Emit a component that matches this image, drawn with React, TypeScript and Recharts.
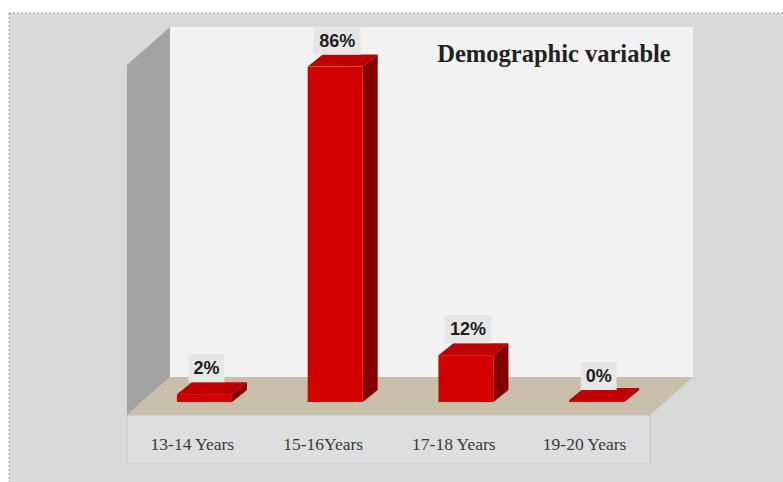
import React from "react";
import { BarChart, Bar, XAxis, YAxis, LabelList } from "recharts";

// chart values
const ageGroups = ["13-14 Years", "15-16Years", "17-18 Years", "19-20 Years"];
const sharePercent = [2, 86, 12, 0];
const chartTitle = "Demographic variable";

const data = ageGroups.map((group, i) => ({ group, share: sharePercent[i] }));

// layout of the 3d box (Excel style)
const W = 783;
const H = 482;
const FRONT_LEFT = 127;
const FRONT_RIGHT = 650;
const FRONT_Y = 415;
const DEPTH_X = 43;
const DEPTH_Y = 38;
const WALL_TOP = 27;
const BAR_SHIFT_X = 12;
const BAR_BASE = 402;
const PLOT_TOP = 12;
const X_AXIS_H = 30;

// bar box depth
const BOX_DX = 15;
const BOX_DY = 12;

const Box3D = (props: any) => {
  const { x, y, width } = props;
  let h = props.height;
  let top = y;
  if (!h || h < 2) {
    h = 2;
    top = BAR_BASE - 2;
  }
  const r = x + width;
  return (
    <g>
      <polygon
        points={`${x},${top} ${x + BOX_DX},${top - BOX_DY} ${r + BOX_DX},${top - BOX_DY} ${r},${top}`}
        fill="#c00000"
      />
      <polygon
        points={`${r},${top} ${r + BOX_DX},${top - BOX_DY} ${r + BOX_DX},${top + h - BOX_DY} ${r},${top + h}`}
        fill="#840000"
      />
      <rect x={x} y={top} width={width} height={h} fill="#d20000" />
    </g>
  );
};

const ValueLabel = (props: any) => {
  const { x, y, width, value } = props;
  const text = `${value}%`;
  const cx = x + width / 2 + 2;
  const cy = y - 26;
  const bw = text.length * 11 + 14;
  return (
    <g>
      <rect x={cx - bw / 2} y={cy - 14} width={bw} height={28} fill="#e6e6e6" />
      <text
        x={cx}
        y={cy + 6}
        textAnchor="middle"
        fontFamily="'Liberation Sans', Arial, sans-serif"
        fontWeight="bold"
        fontSize={18}
        fill="#1e1e1e"
      >
        {text}
      </text>
    </g>
  );
};

const AgeTick = (props: any) => {
  const { x, payload } = props;
  return (
    <text
      x={x - BAR_SHIFT_X}
      y={FRONT_Y + 35}
      textAnchor="middle"
      fontFamily="'Liberation Serif', 'Times New Roman', serif"
      fontSize={17.5}
      fill="#3a3a3a"
    >
      {payload.value}
    </text>
  );
};

const Frame = () => {
  const backL = FRONT_LEFT + DEPTH_X;
  const backR = FRONT_RIGHT + DEPTH_X;
  const backY = FRONT_Y - DEPTH_Y;
  return (
    <svg width={W} height={H} style={{ position: "absolute", left: 0, top: 0 }}>
      <rect x={9} y={13} width={W} height={H} fill="#d9d9d9" stroke="#9a9a9a" strokeDasharray="2 2" />
      {/* back wall */}
      <rect x={backL} y={WALL_TOP} width={backR - backL} height={backY - WALL_TOP} fill="#f2f2f2" />
      {/* left wall */}
      <polygon
        points={`${FRONT_LEFT},${WALL_TOP + DEPTH_Y} ${backL},${WALL_TOP} ${backL},${backY} ${FRONT_LEFT},${FRONT_Y}`}
        fill="#a3a3a3"
      />
      {/* floor */}
      <polygon
        points={`${FRONT_LEFT},${FRONT_Y} ${backL},${backY} ${backR},${backY} ${FRONT_RIGHT},${FRONT_Y}`}
        fill="#c9bea9"
      />
      {/* category strip */}
      <rect x={FRONT_LEFT} y={FRONT_Y} width={FRONT_RIGHT - FRONT_LEFT} height={48} fill="#dedede" />
      <line x1={FRONT_LEFT} y1={FRONT_Y} x2={FRONT_LEFT} y2={FRONT_Y + 48} stroke="#c2c2c2" />
      <line x1={FRONT_RIGHT} y1={FRONT_Y} x2={FRONT_RIGHT} y2={FRONT_Y + 48} stroke="#c2c2c2" />
      <line x1={FRONT_LEFT} y1={FRONT_Y} x2={FRONT_RIGHT} y2={FRONT_Y} stroke="#bdbdbd" />
      <text
        x={554}
        y={62}
        textAnchor="middle"
        fontFamily="'Liberation Serif', 'Times New Roman', serif"
        fontWeight="bold"
        fontSize={24.5}
        fill="#222"
      >
        {chartTitle}
      </text>
    </svg>
  );
};

export default function App() {
  return (
    <div style={{ position: "absolute", left: 0, top: 0, width: W, height: H, background: "#fff", overflow: "hidden" }}>
      <Frame />
      <div style={{ position: "absolute", left: 0, top: 0 }}>
        <BarChart
          width={W}
          height={H}
          data={data}
          barCategoryGap="29%"
          margin={{
            top: PLOT_TOP,
            left: FRONT_LEFT + BAR_SHIFT_X,
            right: W - (FRONT_RIGHT + BAR_SHIFT_X),
            bottom: H - BAR_BASE - X_AXIS_H,
          }}
        >
          <XAxis dataKey="group" height={X_AXIS_H} axisLine={false} tickLine={false} tick={<AgeTick />} interval={0} />
          <YAxis hide domain={[0, 100]} />
          <Bar dataKey="share" shape={<Box3D />} isAnimationActive={false}>
            <LabelList dataKey="share" content={<ValueLabel />} />
          </Bar>
        </BarChart>
      </div>
    </div>
  );
}
